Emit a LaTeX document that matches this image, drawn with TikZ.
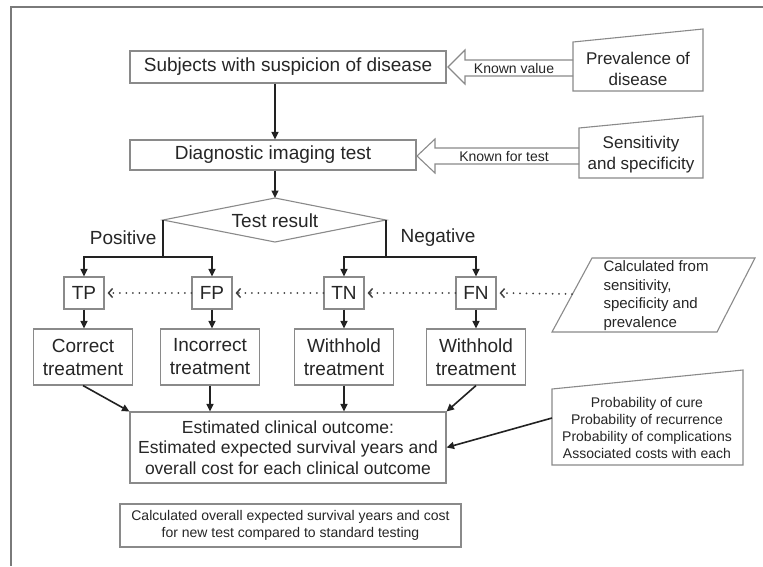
\documentclass[tikz,border=0pt]{standalone}
\usepackage{fontspec}
\setmainfont{Liberation Sans}
\usetikzlibrary{arrows.meta,calc}
\definecolor{boxc}{HTML}{8A8A8A}
\definecolor{txt}{HTML}{262626}
\definecolor{arrc}{HTML}{222222}
\definecolor{framec}{HTML}{7A7A7A}
\begin{document}
\begin{tikzpicture}[x=1pt,y=-1pt,
  every node/.style={text=txt},
  box/.style={draw=boxc,line width=1.1pt,inner sep=0pt,align=center},
  shp/.style={draw=boxc,line width=1.1pt},
  bigf/.style={font=\fontsize{19}{23}\selectfont},
  estf/.style={font=\fontsize{17.5}{20.5}\selectfont},
  midf/.style={font=\fontsize{17}{21}\selectfont},
  cff/.style={font=\fontsize{15}{18.5}\selectfont},
  smallf/.style={font=\fontsize{14}{16.7}\selectfont},
  arr/.style={draw=arrc,line width=1.6pt,-{Triangle[length=7.5pt,width=7pt]}},
  dotarr/.style={draw=arrc!85,line width=2pt,line cap=round,dash pattern=on 0pt off 6.5pt,shorten >=3pt,-{Straight Barb[length=4pt,width=9pt,line width=1.5pt]}},
]
\useasboundingbox (0,0) rectangle (763,566);
\fill[white] (0,0) rectangle (763,566);
% frame
\draw[framec,line width=2pt] (763,7) -- (11,7) -- (11,566);

% top boxes
\node[box,bigf,minimum width=316pt,minimum height=32pt] (subj) at (288,67) {Subjects with suspicion of disease};
\node[box,bigf,minimum width=286pt,minimum height=30pt] (diag) at (273,155) {Diagnostic imaging test};

% manual input shapes
\draw[shp] (573,42) -- (703,29) -- (703,91) -- (573,91) -- cycle;
\node[midf,align=center] (prev) at (638,69) {Prevalence of\\disease};
\draw[shp] (579,128) -- (703,116) -- (703,178) -- (579,178) -- cycle;
\node[midf,align=center] (sens) at (641,155) {Sensitivity\\and specificity};

% hollow arrows
\draw[shp,line join=miter] (573,60) -- (465,60) -- (465,50) -- (448,67) -- (465,84) -- (465,76) -- (573,76);
\node[smallf] (kv) at (514,68) {Known value};
\draw[shp,line join=miter] (579,148) -- (435,148) -- (435,139) -- (417,156) -- (435,173) -- (435,164) -- (579,164);
\node[smallf] (kt) at (504,156) {Known for test};

% diamond
\coordinate (ctop) at (275,198);
\coordinate (dl) at (163,220);
\coordinate (dr) at (386,220);
\coordinate (db) at (275,242);
\draw[shp] (ctop) -- (dr) -- (db) -- (dl) -- cycle;
\node[bigf] (test) at (275,221) {Test result};
\draw[arr] (subj.south -| ctop) -- (diag.north -| ctop);
\draw[arr] (diag.south -| ctop) -- (ctop);

\node[bigf,anchor=east] (pos) at (160,238) {Positive};
\node[bigf,anchor=west] (neg) at (397,238) {Negative};

% TP FP TN FN
\node[box,bigf,minimum width=40pt,minimum height=32pt] (TP) at (84,293) {TP};
\node[box,bigf,minimum width=40pt,minimum height=32pt] (FP) at (212,293) {FP};
\node[box,bigf,minimum width=40pt,minimum height=32pt] (TN) at (344,293) {TN};
\node[box,bigf,minimum width=40pt,minimum height=32pt] (FN) at (476,293) {FN};

\draw[arr] (dl) -- ++(0,37) -| (TP.north);
\draw[arr] (dl) ++(0,37) -| (FP.north);
\draw[arr] (dr) -- ++(0,37) -| (TN.north);
\draw[arr] (dr) ++(0,37) -| (FN.north);

% treatments
\node[box,bigf,minimum width=99pt,minimum height=56pt] (ct) at (83,357) {Correct\\treatment};
\node[box,bigf,minimum width=99pt,minimum height=56pt] (it) at (210,357) {Incorrect\\treatment};
\node[box,bigf,minimum width=99pt,minimum height=56pt] (wt1) at (344,357) {Withhold\\treatment};
\node[box,bigf,minimum width=99pt,minimum height=56pt] (wt2) at (476,357) {Withhold\\treatment};
\draw[arr] (TP.south) -- (TP.south |- ct.north);
\draw[arr] (FP.south) -- (FP.south |- it.north);
\draw[arr] (TN.south) -- (TN.south |- wt1.north);
\draw[arr] (FN.south) -- (FN.south |- wt2.north);

% calculated from parallelogram
\draw[shp] (552,332) -- (592,258) -- (755,258) -- (717,332) -- cycle;
\node[cff,align=left,anchor=west] (cf) at (600,295.5) {Calculated from\\sensitivity,\\specificity and\\prevalence};
\coordinate (cfL) at (572,294);
\draw[dotarr] (cfL) -- (FN.east);
\draw[dotarr] (FN.west) -- (TN.east);
\draw[dotarr] (TN.west) -- (FP.east);
\draw[dotarr] (FP.west) -- (TP.east);

% estimated outcome
\node[box,estf,minimum width=316pt,minimum height=71pt] (est) at (288,447.5) {Estimated clinical outcome:\\Estimated expected survival years and\\overall cost for each clinical outcome};
\draw[arr] (ct.south) -- (est.north west);
\draw[arr] (it.south) -- (it.south |- est.north);
\draw[arr] (wt1.south) -- (wt1.south |- est.north);
\draw[arr] (wt2.south) -- (est.north east);

% probability box
\draw[shp] (552,389) -- (743,370) -- (743,465) -- (552,465) -- cycle;
\node[smallf,align=center] (prob) at (647,428) {Probability of cure\\Probability of recurrence\\Probability of complications\\Associated costs with each};
\coordinate (probL) at (552,418);
\draw[arr] (probL) -- (est.east);

% final box
\node[box,smallf,minimum width=341pt,minimum height=43pt] (calc) at (290.5,525.5) {Calculated overall expected survival years and cost\\for new test compared to standard testing};
\end{tikzpicture}
\end{document}
